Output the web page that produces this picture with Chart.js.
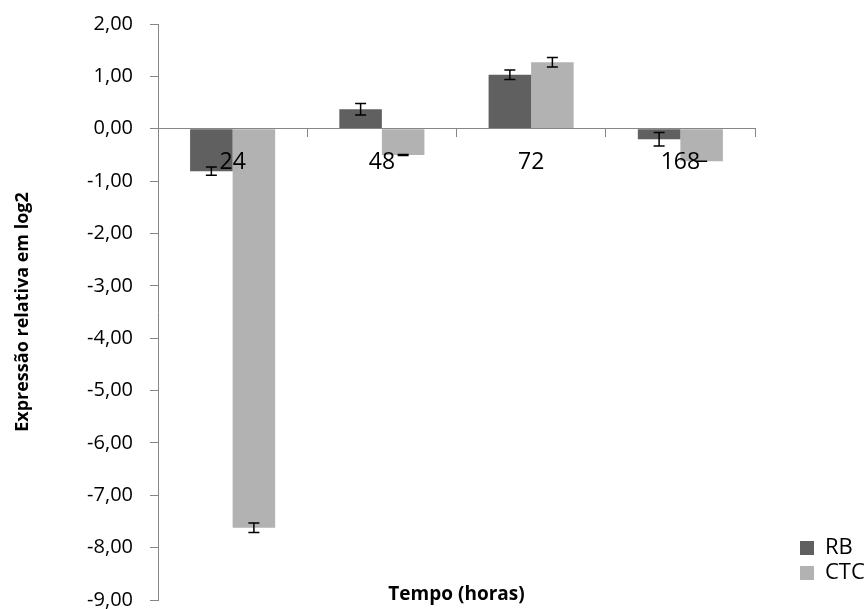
<!DOCTYPE html>
<html>
<head>
<meta charset="utf-8">
<script src="https://cdn.jsdelivr.net/npm/chart.js@4.4.1/dist/chart.umd.min.js"></script>
<style>
  html, body { margin: 0; padding: 0; background: #ffffff; }
  #wrap { width: 868px; height: 609px; }
</style>
</head>
<body>
<div id="wrap"><canvas id="chart" width="868" height="609"></canvas></div>
<script>
// Sampling times (hours)
const categories = ['24', '48', '72', '168'];

// Relative expression (log2) per line, with standard errors
const rbValues  = [-0.81, 0.37, 1.03, -0.20];
const ctcValues = [-7.62, -0.50, 1.27, -0.62];
const rbErrors  = [0.08, 0.11, 0.09, 0.13];
const ctcErrors = [0.09, 0.01, 0.09, 0.00];

// Value axis range
const yMin = -9;
const yMax = 2;
const yStep = 1;

const seriesNames = ['RB', 'CTC'];
const xTitle = 'Tempo (horas)';
const yTitle = 'Expressão relativa em log2';

const FONT = "'Open Sans', 'Liberation Sans', sans-serif";
const AXIS_GREY = '#868686';

Chart.defaults.font.family = FONT;
Chart.defaults.color = '#000000';

// Error bars drawn on top of each bar from its value ± error
const errorBars = {
  id: 'errorBars',
  afterDatasetsDraw(chart) {
    const { ctx } = chart;
    const yScale = chart.scales.y;
    chart.data.datasets.forEach((ds, i) => {
      const meta = chart.getDatasetMeta(i);
      meta.data.forEach((bar, j) => {
        const v = ds.data[j];
        const e = ds.errors[j];
        const yHi = yScale.getPixelForValue(v + e);
        const yLo = yScale.getPixelForValue(v - e);
        const half = 5.5;
        ctx.save();
        ctx.strokeStyle = '#000000';
        ctx.lineWidth = 1.5;
        ctx.beginPath();
        ctx.moveTo(bar.x, yHi); ctx.lineTo(bar.x, yLo);
        ctx.moveTo(bar.x - half, yHi); ctx.lineTo(bar.x + half, yHi);
        ctx.moveTo(bar.x - half, yLo); ctx.lineTo(bar.x + half, yLo);
        ctx.stroke();
        ctx.restore();
      });
    });
  }
};

// Legend column gets a fixed width, then its items are nudged to the lower right
const LEGEND_WIDTH = 113;
const legendPlacement = {
  id: 'legendPlacement',
  beforeLayout(chart) {
    const lg = chart.legend;
    if (lg && !lg._fixedWidth) {
      const baseFit = lg.fit;
      lg.fit = function () {
        baseFit.call(this);
        this.width = LEGEND_WIDTH;
      };
      lg._fixedWidth = true;
    }
  },
  afterLayout(chart) {
    const lg = chart.legend;
    if (!lg) return;
    lg.left += 42; lg.right += 42;
    lg.top -= 13; lg.bottom -= 13;
  }
};

// Category axis title, written under the plot at its horizontal centre
const xAxisTitle = {
  id: 'xAxisTitle',
  afterDraw(chart) {
    const { ctx, chartArea } = chart;
    ctx.save();
    ctx.font = 'bold 19px ' + FONT;
    ctx.fillStyle = '#000000';
    ctx.textAlign = 'center';
    ctx.textBaseline = 'middle';
    ctx.fillText(xTitle, (chartArea.left + chartArea.right) / 2, chartArea.bottom - 5);
    ctx.restore();
  }
};

new Chart(document.getElementById('chart'), {
  type: 'bar',
  data: {
    labels: categories,
    datasets: [
      { label: seriesNames[0], data: rbValues, errors: rbErrors,
        backgroundColor: '#606060', borderWidth: 0,
        categoryPercentage: 0.57, barPercentage: 1.0 },
      { label: seriesNames[1], data: ctcValues, errors: ctcErrors,
        backgroundColor: '#b2b2b2', borderWidth: 0,
        categoryPercentage: 0.57, barPercentage: 1.0 }
    ]
  },
  options: {
    responsive: false,
    animation: false,
    devicePixelRatio: 1,
    layout: { padding: { top: 24, bottom: 9, left: 10, right: 0 } },
    plugins: {
      legend: {
        position: 'right',
        align: 'end',
        labels: {
          boxWidth: 14, boxHeight: 14, padding: 3,
          color: '#000000',
          font: { size: 22 }
        }
      },
      title: { display: false },
      tooltip: { enabled: false }
    },
    scales: {
      x: {
        type: 'category',
        position: { y: 0 },
        offset: true,
        grid: {
          display: true, offset: true, drawOnChartArea: false,
          drawTicks: true, tickLength: 8, color: AXIS_GREY
        },
        border: { display: true, color: AXIS_GREY, width: 1, z: 1 },
        ticks: {
          z: 1,
          color: '#000000', font: { size: 23 }, padding: 12,
          maxRotation: 0, autoSkip: false
        }
      },
      y: {
        min: yMin,
        max: yMax,
        grid: {
          display: true, drawOnChartArea: false, drawTicks: true,
          tickLength: 8, color: AXIS_GREY
        },
        border: { display: true, color: AXIS_GREY, width: 1 },
        ticks: {
          stepSize: yStep,
          color: '#000000',
          font: { size: 20 },
          padding: 17,
          callback: (v) => Number(v).toFixed(2).replace('.', ',')
        },
        title: {
          display: true,
          text: yTitle,
          color: '#000000',
          font: { size: 18, weight: 'bold' },
          padding: { top: 2, bottom: 0 }
        },
        afterFit(scale) {
          scale.width = 148;
          scale.paddingTop = 0;
          scale.paddingBottom = 0;
        }
      }
    }
  },
  plugins: [errorBars, legendPlacement, xAxisTitle]
});
</script>
</body>
</html>
